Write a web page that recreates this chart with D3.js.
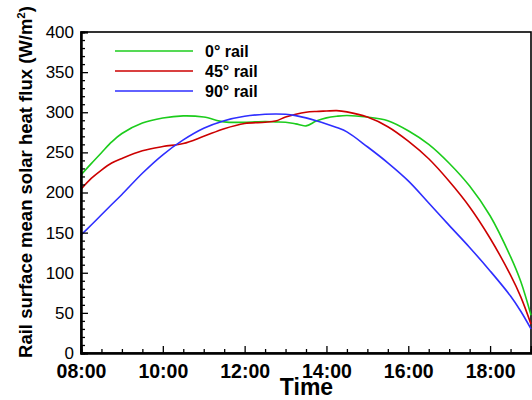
<!DOCTYPE html>
<html>
<head>
<meta charset="utf-8">
<script src="https://cdn.jsdelivr.net/npm/d3@7/dist/d3.min.js"></script>
<style>
  html, body { margin: 0; padding: 0; background: #fff; }
  svg { display: block; font-family: Arial, "Liberation Sans", sans-serif; }
</style>
</head>
<body>
<svg id="chart" width="532" height="400"></svg>
<script>
// Time of day in hours
const hours = [8, 8.25, 8.5, 8.75, 9, 9.5, 10, 10.5, 11, 11.5, 12, 12.5, 12.75, 13, 13.25, 13.5, 13.75, 14, 14.25, 14.5, 15, 15.5, 16, 16.5, 17, 17.5, 18, 18.5, 18.75, 19];

// Mean solar heat flux on the rail surface (W/m^2)
const rail0  = [222, 236, 249.6, 263, 273.5, 286.5, 292.8, 295.5, 294, 288, 287.5, 288.5, 288, 287.5, 285.5, 283, 289, 293, 295, 296, 294, 289.5, 277, 260, 236.5, 208, 171, 120, 89, 47];
const rail45 = [204, 217.5, 228, 236.7, 242.5, 252, 257.3, 261, 270, 279.5, 286, 287.5, 289, 294, 297.5, 300, 301, 301.5, 302, 300.5, 294, 282, 264, 242, 214, 182, 143, 97, 70, 36];
const rail90 = [147, 159.5, 172.3, 185, 197.5, 224, 247, 265.5, 280, 289.5, 295, 297.5, 297.8, 297.5, 295.8, 293, 289.5, 285.5, 281, 275.5, 257, 237, 214.5, 187, 159, 131.5, 102.3, 71, 52, 30];

const seriesNames = ["0\u00B0 rail", "45\u00B0 rail", "90\u00B0 rail"];
const seriesValues = [rail0, rail45, rail90];
const seriesColors = ["#1ccc1c", "#cc0000", "#2e2eff"];

const xTickValues = [8, 10, 12, 14, 16, 18];
const xTickLabels = ["08:00", "10:00", "12:00", "14:00", "16:00", "18:00"];
const yTickValues = [0, 50, 100, 150, 200, 250, 300, 350, 400];

const svg = d3.select("#chart");
const plotLeft = 81, plotRight = 531, plotTop = 32, plotBottom = 353;

const x = d3.scaleLinear().domain([8, 19]).range([plotLeft, plotRight]);
const y = d3.scaleLinear().domain([0, 400]).range([plotBottom, plotTop]);

// Frame
svg.append("rect")
  .attr("x", plotLeft).attr("y", plotTop)
  .attr("width", plotRight - plotLeft).attr("height", plotBottom - plotTop)
  .attr("fill", "none").attr("stroke", "#000").attr("stroke-width", 1.6);

// Curves
const line = d3.line()
  .x((d, i) => x(hours[i]))
  .y(d => y(d))
  .curve(d3.curveCatmullRom.alpha(0.5));

const plot = svg.append("g");
seriesValues.forEach((vals, k) => {
  plot.append("path")
    .datum(vals)
    .attr("d", line)
    .attr("fill", "none")
    .attr("stroke", seriesColors[k])
    .attr("stroke-width", 1.6);
});

// Y axis (ticks point into the plot)
const yMinor = d3.range(0, 401, 10).filter(v => v % 50 !== 0);
const yAxisMinor = d3.axisLeft(y).tickValues(yMinor).tickSize(-4).tickFormat("");
const yAxisMajor = d3.axisLeft(y).tickValues(yTickValues).tickSize(-7).tickPadding(7);
const gyMinor = svg.append("g").attr("transform", `translate(${plotLeft},0)`).call(yAxisMinor);
const gy = svg.append("g").attr("transform", `translate(${plotLeft},0)`).call(yAxisMajor);
[gyMinor, gy].forEach(g => {
  g.select(".domain").attr("stroke", "#000").attr("stroke-width", 2);
  g.selectAll(".tick line").attr("stroke", "#000").attr("stroke-width", 1.3);
});
gy.selectAll(".tick text")
  .attr("font-size", 17).attr("fill", "#000")
  .attr("font-family", "Arial, 'Liberation Sans', sans-serif");

// X axis (ticks point upward)
const xMinor = d3.range(8.5, 19, 0.5).filter(v => v % 2 !== 0);
const xAxisMinor = d3.axisBottom(x).tickValues(xMinor).tickSize(-4).tickFormat("");
const xAxisMajor = d3.axisBottom(x).tickValues(xTickValues).tickSize(-7).tickPadding(11)
  .tickFormat((d, i) => xTickLabels[i]);
const gxMinor = svg.append("g").attr("transform", `translate(0,${plotBottom})`).call(xAxisMinor);
const gx = svg.append("g").attr("transform", `translate(0,${plotBottom})`).call(xAxisMajor);
[gxMinor, gx].forEach(g => {
  g.select(".domain").attr("stroke", "#000").attr("stroke-width", 2);
  g.selectAll(".tick line").attr("stroke", "#000").attr("stroke-width", 1.3);
});
gx.selectAll(".tick text")
  .attr("font-size", 19.5).attr("font-weight", "bold").attr("fill", "#000")
  .attr("font-family", "Arial, 'Liberation Sans', sans-serif");

// Axis titles
svg.append("text")
  .attr("x", 306.5).attr("y", 395)
  .attr("text-anchor", "middle")
  .attr("font-size", 23).attr("font-weight", "bold")
  .text("Time");

const yTitle = svg.append("text")
  .attr("transform", "translate(32,182) rotate(-90)")
  .attr("text-anchor", "middle")
  .attr("font-size", 18.5).attr("font-weight", "bold");
yTitle.append("tspan").text("Rail surface mean solar heat flux (W/m");
yTitle.append("tspan").attr("font-size", 11.5).attr("dy", -7.5).text("2");
yTitle.append("tspan").attr("dy", 7.5).text(")");

// Legend
const legend = svg.append("g");
seriesNames.forEach((name, k) => {
  const ly = 51 + k * 20;
  legend.append("line")
    .attr("x1", 115).attr("x2", 193)
    .attr("y1", ly).attr("y2", ly)
    .attr("stroke", seriesColors[k]).attr("stroke-width", 1.6);
  legend.append("text")
    .attr("x", 205).attr("y", ly + 5.5)
    .attr("font-size", 16).attr("font-weight", "bold")
    .text(name);
});
</script>
</body>
</html>
